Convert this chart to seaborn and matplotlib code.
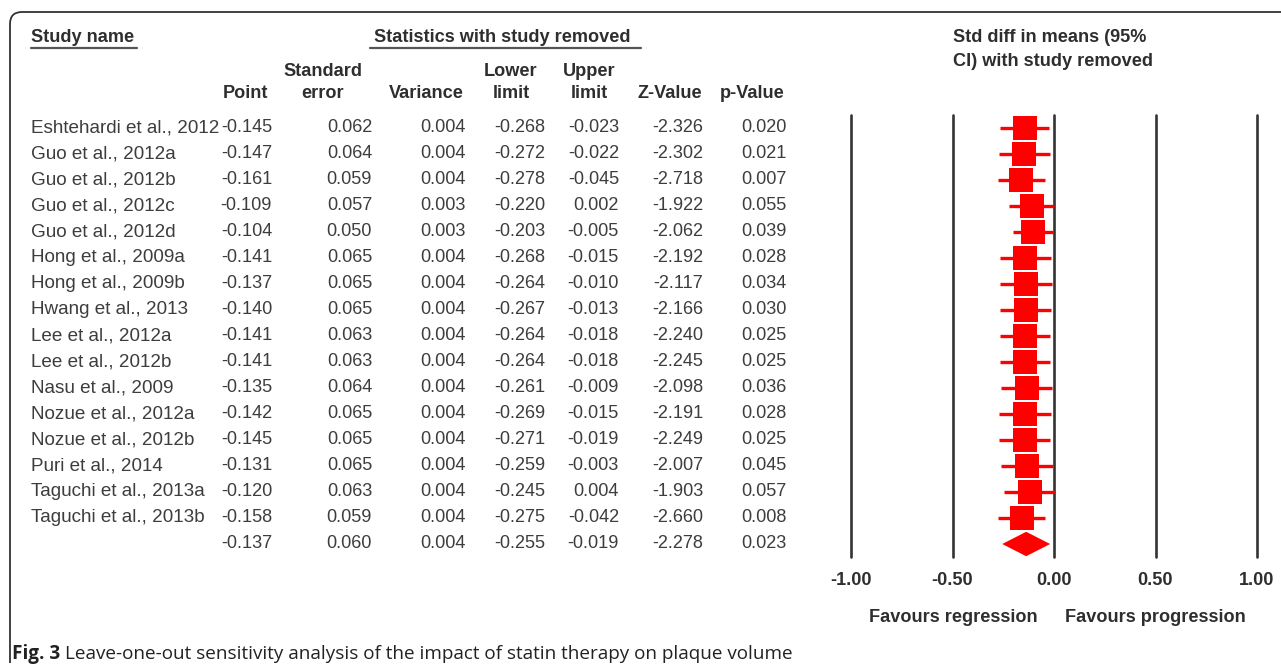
"""
Leave-one-out forest plot: table of statistics on the left, CI plot on the right.
"""

import numpy as np
import pandas as pd
import matplotlib
matplotlib.use('Agg')
import matplotlib.pyplot as plt
import seaborn as sns
from matplotlib.path import Path
from matplotlib.patches import PathPatch
from matplotlib.lines import Line2D
from matplotlib.transforms import IdentityTransform, blended_transform_factory

studies = [
    'Eshtehardi et al., 2012', 'Guo et al., 2012a', 'Guo et al., 2012b',
    'Guo et al., 2012c', 'Guo et al., 2012d', 'Hong et al., 2009a',
    'Hong et al., 2009b', 'Hwang et al., 2013', 'Lee et al., 2012a',
    'Lee et al., 2012b', 'Nasu et al., 2009', 'Nozue et al., 2012a',
    'Nozue et al., 2012b', 'Puri et al., 2014', 'Taguchi et al., 2013a',
    'Taguchi et al., 2013b', '',
]
point = [-0.145, -0.147, -0.161, -0.109, -0.104, -0.141, -0.137, -0.140, -0.141,
         -0.141, -0.135, -0.142, -0.145, -0.131, -0.120, -0.158, -0.137]
std_err = [0.062, 0.064, 0.059, 0.057, 0.050, 0.065, 0.065, 0.065, 0.063,
           0.063, 0.064, 0.065, 0.065, 0.065, 0.063, 0.059, 0.060]
variance = [0.004, 0.004, 0.004, 0.003, 0.003, 0.004, 0.004, 0.004, 0.004,
            0.004, 0.004, 0.004, 0.004, 0.004, 0.004, 0.004, 0.004]
lower = [-0.268, -0.272, -0.278, -0.220, -0.203, -0.268, -0.264, -0.267, -0.264,
         -0.264, -0.261, -0.269, -0.271, -0.259, -0.245, -0.275, -0.255]
upper = [-0.023, -0.022, -0.045, 0.002, -0.005, -0.015, -0.010, -0.013, -0.018,
         -0.018, -0.009, -0.015, -0.019, -0.003, 0.004, -0.042, -0.019]
z_value = [-2.326, -2.302, -2.718, -1.922, -2.062, -2.192, -2.117, -2.166, -2.240,
           -2.245, -2.098, -2.191, -2.249, -2.007, -1.903, -2.660, -2.278]
p_value = [0.020, 0.021, 0.007, 0.055, 0.039, 0.028, 0.034, 0.030, 0.025,
           0.025, 0.036, 0.028, 0.025, 0.045, 0.057, 0.008, 0.023]

x_ticks = [-1.0, -0.5, 0.0, 0.5, 1.0]
x_ticklabels = ['-1.00', '-0.50', '0.00', '0.50', '1.00']

W, H = 1281, 669
FS = 13.1
FS_NAME = 13.6
BODY = '#3d3d3d'
HEAD = '#2e2e2e'

sns.set_theme(style='white')
plt.rcParams['font.family'] = ['Liberation Sans', 'DejaVu Sans']

df = pd.DataFrame({'study': studies, 'point': point, 'lower': lower, 'upper': upper})
df['row'] = np.arange(len(df))
studies_df = df.iloc[:-1]
summary = df.iloc[-1]

fig = plt.figure(figsize=(W / 100, H / 100), dpi=100)
fig.patch.set_facecolor('white')


def fx(x):
    return x / W


def fy(y):
    return 1 - y / H


# ---- forest plot ----
ax = fig.add_axes([fx(851), fy(557), (1257 - 851) / W, 442 / H])
for t in x_ticks:
    ax.axvline(t, color='#333333', lw=1.9, clip_on=False, zorder=1)
ax.hlines(studies_df['row'], studies_df['lower'], studies_df['upper'],
          color='red', lw=2.4, zorder=2)
sns.scatterplot(data=studies_df, x='point', y='row', marker='s', s=285,
                color='red', linewidth=0, ax=ax, legend=False, zorder=3)
r = summary['row']
ax.fill([summary['lower'], summary['point'], summary['upper'], summary['point']],
        [r, r - 0.47, r, r + 0.47], color='red', lw=0, zorder=3)
ax.set_xlim(-1, 1)
ax.set_ylim(len(df) - 0.5, -0.5)
ax.set_xticks(x_ticks)
ax.set_xticklabels(x_ticklabels, fontsize=FS, fontweight='bold', color=HEAD)
ax.set_yticks([])
ax.set_xlabel('')
ax.set_ylabel('')
ax.tick_params(axis='x', length=0, pad=10.5)
ax.patch.set_alpha(0)
sns.despine(ax=ax, left=True, bottom=True)

fig.text(fx(953), fy(37), 'Std diff in means (95%', fontsize=FS, fontweight='bold',
         color=HEAD, ha='left', va='center')
fig.text(fx(953), fy(62), 'CI) with study removed', fontsize=FS, fontweight='bold',
         color=HEAD, ha='left', va='center')
fig.text(fx(953), fy(618), 'Favours regression', fontsize=FS, fontweight='bold',
         color=HEAD, ha='center', va='center')
fig.text(fx(1155), fy(618), 'Favours progression', fontsize=FS, fontweight='bold',
         color=HEAD, ha='center', va='center')

# ---- table ----
row_tr = blended_transform_factory(fig.transFigure, ax.transData)
columns = [
    (point, 272), (std_err, 372), (variance, 466), (lower, 545),
    (upper, 619), (z_value, 703), (p_value, 787),
]
for i in range(len(df)):
    fig.text(fx(31), i, studies[i], transform=row_tr, fontsize=FS_NAME, color=BODY,
             ha='left', va='center')
    for vals, xr in columns:
        fig.text(fx(xr), i, f'{vals[i]:.3f}', transform=row_tr, fontsize=FS,
                 color=BODY, ha='right', va='center')

fig.text(fx(31), fy(37), 'Study name', fontsize=FS, fontweight='bold', color=HEAD,
         ha='left', va='center')
fig.text(fx(374), fy(37), 'Statistics with study removed', fontsize=FS,
         fontweight='bold', color=HEAD, ha='left', va='center')
for x0, x1 in [(31, 137), (370, 641)]:
    fig.add_artist(Line2D([fx(x0), fx(x1)], [fy(48), fy(48)], color='#555555',
                          lw=1.6, transform=fig.transFigure))

headers = [
    ('Point', None, 268, 'right'), ('Standard', 'error', 323, 'center'),
    ('Variance', None, 464, 'right'), ('Lower', 'limit', 511, 'center'),
    ('Upper', 'limit', 589, 'center'), ('Z-Value', None, 702, 'right'),
    ('p-Value', None, 785, 'right'),
]
for top, bottom, x, ha in headers:
    if bottom is None:
        fig.text(fx(x), fy(94), top, fontsize=FS, fontweight='bold', color=HEAD,
                 ha=ha, va='center')
    else:
        fig.text(fx(x), fy(72), top, fontsize=FS, fontweight='bold', color=HEAD,
                 ha=ha, va='center')
        fig.text(fx(x), fy(94), bottom, fontsize=FS, fontweight='bold', color=HEAD,
                 ha=ha, va='center')

# ---- frame (top + left edge with rounded corner) ----
verts = [(10, H - 663), (10, H - 24), (10, H - 12), (22, H - 12), (W + 5, H - 12)]
codes = [Path.MOVETO, Path.LINETO, Path.CURVE3, Path.CURVE3, Path.LINETO]
fig.add_artist(PathPatch(Path(verts, codes), fill=False, edgecolor='#333333',
                         lw=1.3, transform=IdentityTransform()))

# ---- caption ----
cap_font = ['Open Sans', 'DejaVu Sans']
t1 = fig.text(fx(12), fy(654), 'Fig. 3', fontsize=13.6, fontweight='bold',
              family=cap_font, color='#222222', ha='left', va='center')
fig.canvas.draw()
bb = t1.get_window_extent()
fig.text((bb.x1 + 5) / W, fy(654),
         'Leave-one-out sensitivity analysis of the impact of statin therapy on plaque volume',
         fontsize=13.6, family=cap_font, color='#222222', ha='left', va='center')

fig.savefig('out.png', dpi=100, facecolor='white')
